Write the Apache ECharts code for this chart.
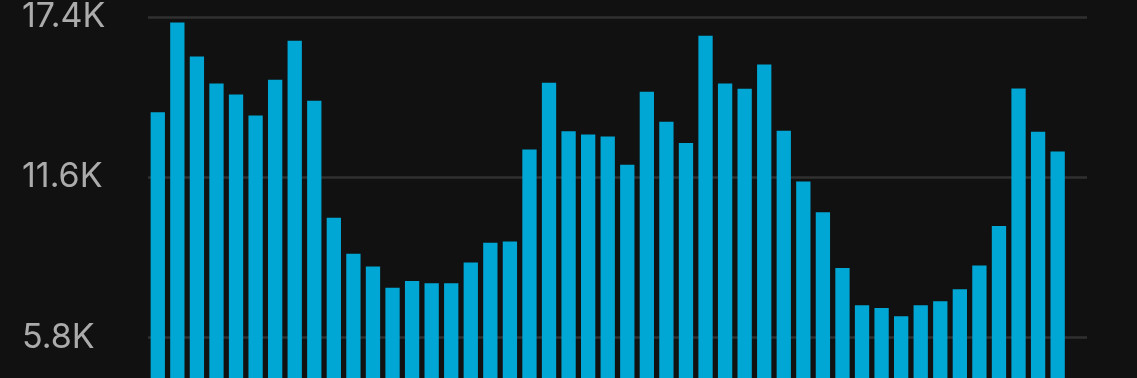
<!DOCTYPE html>
<html>
  <head>
    <meta charset="utf-8" />
    <title>ECharts</title>
    <script src="https://cdn.jsdelivr.net/npm/echarts@6/dist/echarts.min.js"></script>
    <style>
      html, body { margin: 0; padding: 0; background: #111111; overflow: hidden; }
    </style>
  </head>

  <body>
    <!-- taller than the window: the zero line sits below the visible area -->
    <div id="main" style="width: 1137px; height: 520px"></div>
    <script type="text/javascript">
      var myChart = echarts.init(document.getElementById("main"));

      // 47 periods drawn, one trailing empty slot on the axis
      const periods = [];
      for (let i = 1; i <= 48; i++) periods.push("P" + i);

      const values = [
        13950, 17200, 15970, 14990, 14590, 13830, 15130, 16540, 14370, 10130,
        8830, 8370, 7600, 7840, 7760, 7760, 8510, 9230, 9270, 12600,
        15020, 13260, 13150, 13070, 12050, 14690, 13610, 12840, 16720, 14990,
        14800, 15680, 13280, 11440, 10330, 8310, 6960, 6860, 6570, 6960,
        7110, 7540, 8400, 9830, 14810, 13250, 12530, null,
      ];

      const yTicks = [0, 5800, 11600, 17400];

      option = {
        backgroundColor: "#111111",
        animation: false,
        grid: {
          left: 148,
          right: 50,
          top: 15.7,
          bottom: 22.4,
        },
        xAxis: {
          type: "category",
          data: periods,
          axisLine: { show: false },
          axisTick: { show: false },
          axisLabel: { show: false },
        },
        yAxis: {
          type: "value",
          min: yTicks[0],
          max: yTicks[yTicks.length - 1],
          interval: yTicks[1] - yTicks[0],
          axisLine: { show: false },
          axisTick: { show: false },
          splitLine: {
            lineStyle: { color: "#303030", width: 2.5 },
          },
          axisLabel: {
            align: "left",
            margin: 126,
            color: "#ababab",
            fontSize: 34,
            fontFamily: "Inter",
            padding: [3, 0, 0, 0],
            formatter: function (v) {
              return (v / 1000).toFixed(1) + "K";
            },
          },
        },
        series: [
          {
            type: "bar",
            data: values,
            barWidth: 14.3,
            itemStyle: { color: "#01a7d4" },
          },
        ],
      };

      myChart.setOption(option);
    </script>
  </body>
</html>
